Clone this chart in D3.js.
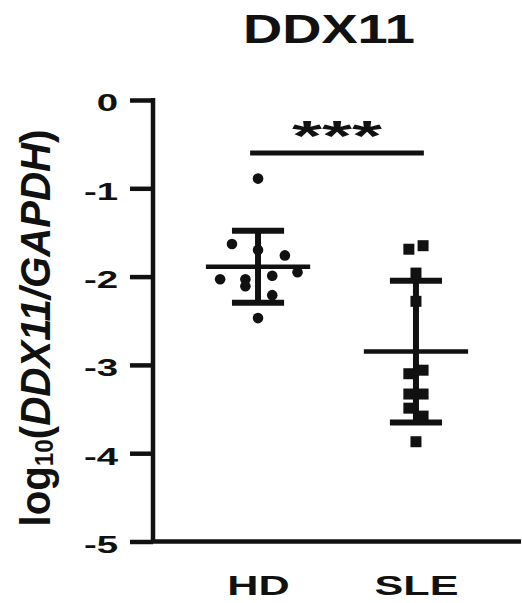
<!DOCTYPE html>
<html>
<head>
<meta charset="utf-8">
<script src="https://cdn.jsdelivr.net/npm/d3@7/dist/d3.min.js"></script>
<style>
  html, body { margin: 0; padding: 0; background: #fff; }
  svg { display: block; }
  text { font-family: "Liberation Sans", Arial, sans-serif; fill: #111; }
</style>
</head>
<body>
<svg id="chart" width="522" height="603"></svg>
<script>
// ---- data ----
const chartTitle = "DDX11";
const groups = ["HD", "SLE"];
const hdValues  = [-0.89, -1.63, -1.70, -1.76, -1.95, -2.03, -2.03, -2.11, -1.99, -2.21, -2.47];
const hdJitter  = [0, -0.165, 0, 0.17, 0.25, -0.24, -0.08, -0.08, 0.09, 0.09, 0];
const sleValues = [-1.69, -1.65, -1.96, -2.28, -3.10, -3.06, -3.33, -3.33, -3.49, -3.58, -3.87];
const sleJitter = [-0.045, 0.045, 0, 0, -0.045, 0.045, -0.045, 0.045, -0.045, 0.045, 0];
const yTicks = [0, -1, -2, -3, -4, -5];
const significance = "***";

// ---- layout ----
const svg = d3.select("#chart");
const y = d3.scaleLinear().domain([-5, 0]).range([541.5, 100]);
const x = d3.scaleLinear().domain([-0.665, 1.665]).range([153, 521]);
const ink = "#111";

const series = [
  { name: groups[0], values: hdValues, jitter: hdJitter, shape: "circle", idx: 0 },
  { name: groups[1], values: sleValues, jitter: sleJitter, shape: "square", idx: 1 }
];

// Title
svg.append("text")
  .attr("x", 329).attr("y", 43)
  .attr("text-anchor", "middle")
  .attr("font-size", 40).attr("font-weight", "bold")
  .attr("textLength", 172).attr("lengthAdjust", "spacingAndGlyphs")
  .text(chartTitle);

// Y axis
const yAxis = svg.append("g")
  .attr("transform", `translate(${x.range()[0]},0)`)
  .call(d3.axisLeft(y).tickValues(yTicks).tickSize(23).tickSizeOuter(0).tickFormat(d3.format("d")));
yAxis.select(".domain").attr("stroke", ink).attr("stroke-width", 4.5)
  .attr("d", `M0,${y(0) - 2}V${y(-5)}`);
yAxis.selectAll(".tick line").attr("stroke", ink).attr("stroke-width", 4.5);
yAxis.selectAll(".tick text")
  .attr("x", null).attr("dy", "0.45em")
  .attr("transform", "translate(-35,0) scale(1.6,1)")
  .attr("font-size", 24).attr("font-weight", "bold")
  .attr("font-family", "Liberation Sans, Arial, sans-serif")
  .attr("fill", ink)
  .text(d => d === 0 ? "0" : d3.format("d")(d).replace("−", "-"));

// X axis
const xAxis = svg.append("g")
  .attr("transform", `translate(0,${y(-5)})`)
  .call(d3.axisBottom(x).tickValues([0, 1]).tickSize(0).tickSizeOuter(0).tickPadding(34)
    .tickFormat(d => groups[d]));
xAxis.select(".domain").attr("stroke", ink).attr("stroke-width", 4.5)
  .attr("d", `M${x.range()[0] - 2},0H${x.range()[1]}`);
xAxis.selectAll(".tick text")
  .attr("transform", "scale(1.6,1)")
  .attr("font-size", 27).attr("font-weight", "bold")
  .attr("font-family", "Liberation Sans, Arial, sans-serif")
  .attr("fill", ink);

// Points
series.forEach(s => {
  const g = svg.append("g");
  s.values.forEach((v, i) => {
    const cx = x(s.idx + s.jitter[i]), cy = y(v);
    if (s.shape === "circle") {
      g.append("circle").attr("cx", cx).attr("cy", cy).attr("r", 5.3).attr("fill", ink);
    } else {
      g.append("rect").attr("x", cx - 5.5).attr("y", cy - 5.5)
        .attr("width", 11).attr("height", 11).attr("fill", ink);
    }
  });
});

// Mean and SD
series.forEach(s => {
  const m = d3.mean(s.values), sd = d3.deviation(s.values);
  const g = svg.append("g").attr("stroke", ink);
  g.append("line").attr("x1", x(s.idx)).attr("x2", x(s.idx))
    .attr("y1", y(m + sd)).attr("y2", y(m - sd)).attr("stroke-width", 6);
  [m + sd, m - sd].forEach(v => {
    g.append("line").attr("x1", x(s.idx - 0.165)).attr("x2", x(s.idx + 0.165))
      .attr("y1", y(v)).attr("y2", y(v)).attr("stroke-width", 6);
  });
  g.append("line").attr("x1", x(s.idx - 0.33)).attr("x2", x(s.idx + 0.33))
    .attr("y1", y(m)).attr("y2", y(m)).attr("stroke-width", 4.5);
});

// Significance bar
svg.append("line")
  .attr("x1", x(-0.05)).attr("x2", x(1.05))
  .attr("y1", 153).attr("y2", 153)
  .attr("stroke", ink).attr("stroke-width", 5);
svg.append("text")
  .attr("x", (x(0) + x(1)) / 2 - 0).attr("y", 150)
  .attr("text-anchor", "middle")
  .attr("font-size", 42).attr("font-weight", "bold")
  .attr("fill", "#1c1a17")
  .attr("textLength", 90).attr("lengthAdjust", "spacingAndGlyphs")
  .text(significance);

// Y label
const yl = svg.append("text")
  .attr("transform", "translate(50,328) rotate(-90)")
  .attr("text-anchor", "middle")
  .attr("font-size", 43).attr("font-weight", "bold")
  .attr("textLength", 397).attr("lengthAdjust", "spacingAndGlyphs");
yl.append("tspan").text("log");
yl.append("tspan").attr("font-size", 26).attr("dy", 3).text("10");
yl.append("tspan").attr("dy", -3).text("(");
yl.append("tspan").attr("font-style", "italic").text("DDX11/GAPDH");
yl.append("tspan").text(")");
</script>
</body>
</html>
